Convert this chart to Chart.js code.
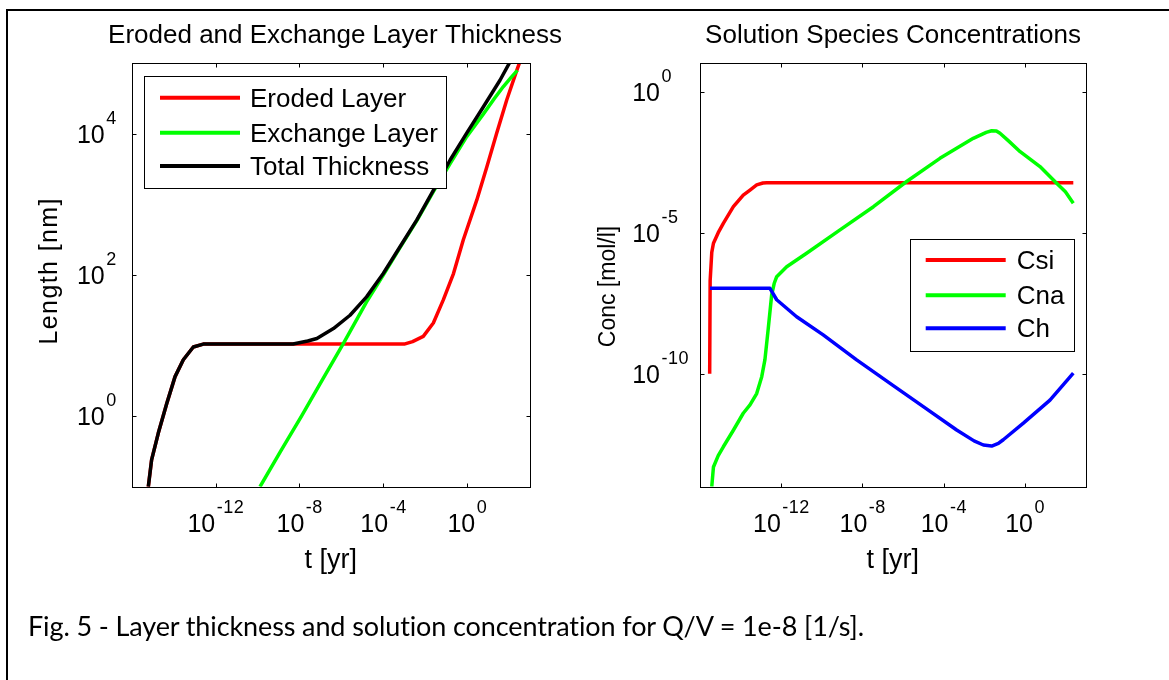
<!DOCTYPE html>
<html>
<head>
<meta charset="utf-8">
<script src="https://cdn.jsdelivr.net/npm/chart.js@4.4.1/dist/chart.umd.min.js"></script>
<style>
  html, body { margin: 0; padding: 0; background: #fff; }
  #page { position: relative; width: 1169px; height: 680px; overflow: hidden; background: #fff; }
  #page canvas { position: absolute; left: 0; top: 0; }
  .rule { position: absolute; background: #000; z-index: 2; }
  #caption {
    position: absolute; left: 28px; top: 612px; z-index: 3;
    font-family: Lato, "Open Sans", sans-serif; font-size: 27px; line-height: 27px;
    white-space: nowrap; color: #000;
  }
</style>
</head>
<body>
<div id="page">
  <canvas id="thick" width="1169" height="680"></canvas>
  <canvas id="conc" width="1169" height="680"></canvas>
  <div class="rule" style="left:6px; top:9px; width:1163px; height:2px;"></div>
  <div class="rule" style="left:6px; top:9px; width:2px; height:671px;"></div>
  <div id="caption"><span id="capText">Fig. 5 - Layer thickness and solution concentration for Q/V = 1e-8 [1/s].</span></div>
</div>
<script>
// ---------- Layer thickness panel: t [yr] vs length [nm] ----------
const tTotal   = [6.2e-16, 8.9e-16, 1.86e-15, 4.7e-15, 1.17e-14, 2.9e-14, 8.7e-14, 2.6e-13, 1e-10, 5.0e-9, 2.5e-8, 6.8e-8, 4.2e-7, 2.6e-6, 1.6e-5, 1e-4, 6.3e-4, 4.0e-3, 2.45e-2, 0.155, 0.955, 5.9, 37, 126];
const lenTotal = [0.1, 0.24, 0.575, 1.51, 3.63, 6.3, 9.55, 10.5, 10.5, 10.5, 11.6, 12.6, 17.4, 26.9, 49, 105, 251, 603, 1585, 4266, 10230, 24000, 57500, 112000];

const tEroded   = [6.2e-16, 8.9e-16, 1.86e-15, 4.7e-15, 1.17e-14, 2.9e-14, 8.7e-14, 2.6e-13, 1.0e-3, 2.5e-3, 8.1e-3, 2.45e-2, 7.4e-2, 0.224, 0.66, 2.88, 8.7, 25.7, 77.6, 234, 355];
const lenEroded = [0.1, 0.24, 0.575, 1.51, 3.63, 6.3, 9.55, 10.5, 10.5, 11.4, 13.5, 20.9, 44.7, 105, 316, 1150, 3390, 10230, 30200, 79400, 112000];

const tExchange   = [1.32e-10, 1.26e-9, 1.26e-8, 1.26e-7, 1.26e-6, 1.6e-5, 1e-4, 6.3e-4, 4.0e-3, 2.45e-2, 0.155, 0.955, 5.9, 20, 53.7, 126, 251];
const lenExchange = [0.1, 0.316, 1.0, 3.3, 10.7, 41.7, 100, 245, 589, 1514, 3800, 9120, 19050, 31600, 46800, 63100, 79400];

// ---------- Solution species panel: t [yr] vs concentration [mol/l] ----------
const tSi = [3.0e-16, 3.16e-16, 3.8e-16, 4.6e-16, 7.9e-16, 1.41e-15, 4.4e-15, 1.35e-14, 2.9e-14, 6.2e-14, 1.26e-13, 1.95e-13, 245];
const cSi = [1e-10, 2.0e-7, 2.0e-6, 4.2e-6, 1e-5, 2.14e-5, 8.3e-5, 2.14e-4, 3.24e-4, 4.9e-4, 5.75e-4, 5.9e-4, 5.9e-4];

const tNa = [3.8e-16, 4.6e-16, 7.9e-16, 1.41e-15, 4.4e-15, 1.35e-14, 2.9e-14, 6.2e-14, 1.1e-13, 1.58e-13, 2.3e-13, 3.4e-13, 4.5e-13, 6.0e-13, 1.86e-12, 5.75e-12, 1.78e-11, 7.9e-10, 3.5e-8, 1.51e-6, 6.6e-5, 2.9e-3, 0.0126, 0.0234, 0.0398, 0.060, 0.158, 0.59, 5.6, 37, 100, 245];
const cNa = [1e-14, 5.0e-14, 1.26e-13, 2.6e-13, 1e-12, 4.0e-12, 7.9e-12, 2.0e-11, 7.9e-11, 3.16e-10, 4.0e-9, 6.3e-8, 1.58e-7, 2.75e-7, 6.2e-7, 1.07e-6, 1.86e-6, 1.26e-5, 8.3e-5, 6.5e-4, 4.3e-3, 0.0219, 0.0355, 0.0407, 0.0398, 0.0331, 0.0178, 7.4e-3, 2.19e-3, 5.6e-4, 2.8e-4, 1.1e-4];

const tH = [3.1e-16, 2.8e-13, 6.0e-13, 5.75e-12, 1.17e-10, 5.2e-9, 2.3e-7, 1e-5, 4.4e-4, 3.16e-3, 9.1e-3, 0.0234, 0.050, 0.087, 0.85, 17.4, 245];
const cH = [1.07e-7, 1.07e-7, 4.2e-8, 1.05e-8, 2.4e-9, 3.1e-10, 4.6e-11, 6.9e-12, 1.02e-12, 4.2e-13, 3.0e-13, 2.75e-13, 3.4e-13, 4.6e-13, 1.78e-12, 1.17e-11, 1.05e-10];

// ---------- axis ticks (decade exponents) ----------
const timeTickExps   = [-12, -8, -4, 0];
const lengthTickExps = [0, 2, 4];
const concTickExps   = [-10, -5, 0];

const FONT = '"Liberation Sans", Arial, Helvetica, sans-serif';
const EXP_PX = 18;

function pairs(xs, ys) { return xs.map((x, i) => ({ x: x, y: ys[i] })); }

function textOut(ctx, str, x, y, px, align, targetW, spacing) {
  ctx.font = px + 'px ' + FONT;
  ctx.letterSpacing = '0px';
  let w = ctx.measureText(str).width;
  let sp = spacing || 0;
  if (targetW) { sp = (targetW - w) / Math.max(1, str.length - 1); }
  w = w + sp * (str.length - 1);
  ctx.letterSpacing = sp + 'px';
  const x0 = align === 'center' ? x - w / 2 : (align === 'right' ? x - w : x);
  ctx.textAlign = 'left';
  ctx.textBaseline = 'alphabetic';
  ctx.fillText(str, x0, y);
  ctx.letterSpacing = '0px';
  return w;
}

function measure(ctx, str, px, sp) {
  ctx.font = px + 'px ' + FONT;
  ctx.letterSpacing = '0px';
  return ctx.measureText(str).width + (sp || 0) * (str.length - 1);
}

// Box, inward ticks, power-of-ten labels, titles and an opaque legend, drawn over the lines.
const axesDecor = {
  id: 'axesDecor',
  afterDatasetsDraw(chart, args, o) {
    const ctx = chart.ctx, a = chart.chartArea;
    const sx = chart.scales.x, sy = chart.scales.y;
    const L = Math.round(a.left) + 0.5, R = Math.round(a.right) + 0.5;
    const T = Math.round(a.top) + 0.5, B = Math.round(a.bottom) + 0.5;
    const TL = 4;
    ctx.save();
    ctx.fillStyle = '#000';
    ctx.strokeStyle = '#000';
    ctx.lineWidth = 1;

    // legend (white, framed)
    const lg = o.legend;
    ctx.fillStyle = '#fff';
    ctx.fillRect(lg.box[0], lg.box[1], lg.box[2] - lg.box[0], lg.box[3] - lg.box[1]);
    ctx.strokeRect(Math.round(lg.box[0]) + 0.5, Math.round(lg.box[1]) + 0.5,
                   Math.round(lg.box[2] - lg.box[0]), Math.round(lg.box[3] - lg.box[1]));
    chart.data.datasets.forEach((ds, i) => {
      const yy = lg.rows[i];
      ctx.beginPath();
      ctx.strokeStyle = ds.borderColor;
      ctx.lineWidth = 4;
      ctx.lineCap = 'butt';
      ctx.moveTo(lg.line[0], yy);
      ctx.lineTo(lg.line[1], yy);
      ctx.stroke();
      ctx.fillStyle = '#000';
      textOut(ctx, ds.label, lg.textX, yy + 9, 26, 'left');
    });

    // axes box
    ctx.strokeStyle = '#000';
    ctx.lineWidth = 1;
    ctx.strokeRect(L, T, R - L, B - T);

    // ticks on all four sides, pointing inward
    ctx.beginPath();
    o.xExps.forEach(e => {
      const x = Math.round(sx.getPixelForValue(Math.pow(10, e))) + 0.5;
      ctx.moveTo(x, B); ctx.lineTo(x, B - TL);
      ctx.moveTo(x, T); ctx.lineTo(x, T + TL);
    });
    o.yExps.forEach(e => {
      const y = Math.round(sy.getPixelForValue(Math.pow(10, e))) + 0.5;
      ctx.moveTo(L, y); ctx.lineTo(L + TL, y);
      ctx.moveTo(R, y); ctx.lineTo(R - TL, y);
    });
    ctx.stroke();

    // x tick labels: "10" with raised exponent, centred on the tick
    ctx.fillStyle = '#000';
    o.xExps.forEach(e => {
      const x = sx.getPixelForValue(Math.pow(10, e));
      const es = String(e);
      const wb = measure(ctx, '10', 25, 0);
      const we = measure(ctx, es, EXP_PX, 0.5);
      const x0 = x - (wb + 1.5 + we) / 2;
      textOut(ctx, '10', x0, a.bottom + 45, 25, 'left');
      textOut(ctx, es, x0 + wb + 1.5, a.bottom + 26, EXP_PX, 'left', null, 0.5);
    });

    // y tick labels: "10" right-aligned at a fixed column, exponent after it
    o.yExps.forEach(e => {
      const y = sy.getPixelForValue(Math.pow(10, e));
      const br = a.left - o.yBaseGap;
      textOut(ctx, '10', br, y + 9, 25, 'right');
      textOut(ctx, String(e), br + 1.5, y - 10, EXP_PX, 'left', null, 0.5);
    });

    // panel title
    textOut(ctx, o.title, o.titleX, 43, 26, 'center');

    // x axis label
    textOut(ctx, o.xLabel, (a.left + a.right) / 2, 568, 27, 'center');

    // y axis label, rotated
    ctx.save();
    ctx.translate(o.yLabel.x, o.yLabel.cy);
    ctx.rotate(-Math.PI / 2);
    textOut(ctx, o.yLabel.text, 0, 0, o.yLabel.px, 'center', o.yLabel.w);
    ctx.restore();

    ctx.restore();
  }
};

function lineSet(label, xs, ys, color, order) {
  return {
    label: label, data: pairs(xs, ys), borderColor: color, backgroundColor: color,
    borderWidth: 3.5, pointRadius: 0, tension: 0, fill: false, order: order,
    borderJoinStyle: 'round', borderCapStyle: 'butt', clip: 0
  };
}

function baseOptions(pad, yMin, yMax, decor) {
  return {
    responsive: false, animation: false, devicePixelRatio: 1, events: [],
    layout: { padding: pad },
    plugins: { legend: { display: false }, title: { display: false }, tooltip: { enabled: false }, axesDecor: decor },
    scales: {
      x: { type: 'logarithmic', min: 1e-16, max: 1e3, display: false },
      y: { type: 'logarithmic', min: yMin, max: yMax, display: false }
    }
  };
}

new Chart(document.getElementById('thick'), {
  type: 'line',
  data: {
    datasets: [
      lineSet('Eroded Layer', tEroded, lenEroded, '#ff0000', 2),
      lineSet('Exchange Layer', tExchange, lenExchange, '#00ff00', 1),
      lineSet('Total Thickness', tTotal, lenTotal, '#000000', 0)
    ]
  },
  options: baseOptions({ left: 131.7, top: 63.3, right: 1169 - 530, bottom: 680 - 486.7 }, 0.1, 1e5, {
    title: 'Eroded and Exchange Layer Thickness', titleX: 335,
    xLabel: 't [yr]',
    yLabel: { text: 'Length [nm]', x: 57, cy: 271.5, w: 146, px: 25 },
    xExps: timeTickExps, yExps: lengthTickExps, yBaseGap: 27,
    legend: { box: [144, 76, 446, 188], line: [160, 240], rows: [97.7, 132.7, 166], textX: 250 }
  }),
  plugins: [axesDecor]
});

new Chart(document.getElementById('conc'), {
  type: 'line',
  data: {
    datasets: [
      lineSet('Csi', tSi, cSi, '#ff0000', 2),
      lineSet('Cna', tNa, cNa, '#00ff00', 1),
      lineSet('Ch', tH, cH, '#0000ff', 0)
    ]
  },
  options: baseOptions({ left: 700, top: 63.3, right: 1169 - 1085.7, bottom: 680 - 486.7 }, 1e-14, 1e1, {
    title: 'Solution Species Concentrations', titleX: 893,
    xLabel: 't [yr]',
    yLabel: { text: 'Conc [mol/l]', x: 615, cy: 286.5, w: null, px: 23 },
    xExps: timeTickExps, yExps: concTickExps, yBaseGap: 40,
    legend: { box: [910, 239, 1074, 351], line: [925.7, 1005.7], rows: [260, 295.3, 328.3], textX: 1016.7 }
  }),
  plugins: [axesDecor]
});

// stretch the caption to its printed width
(function () {
  const span = document.getElementById('capText');
  const w = span.getBoundingClientRect().width;
  const n = span.textContent.length;
  span.style.letterSpacing = ((837 - w) / (n - 1)) + 'px';
})();
</script>
</body>
</html>
